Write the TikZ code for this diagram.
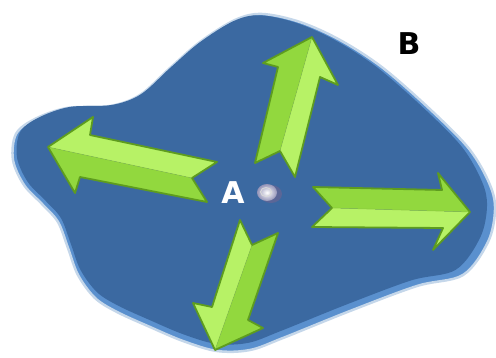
\documentclass[tikz,border=0pt]{standalone}
\usepackage{fontspec}
\setmainfont{DejaVu Sans}
\definecolor{rimblue}{HTML}{5A90CE}
\definecolor{rimline}{HTML}{C5D7EA}
\definecolor{topblue}{HTML}{3B69A1}
\definecolor{lightlime}{HTML}{B7F266}
\definecolor{darklime}{HTML}{92D83E}
\definecolor{limeline}{HTML}{5E9C1F}
\newcommand\blobpath{plot[smooth cycle,tension=0.55] coordinates {
 (200,42) (235,20) (262,14) (300,22) (340,40) (383,68) (433,112) (470,150)
 (490,185) (495,210) (488,242) (463,275) (417,286) (350,311) (283,338)
 (250,350) (217,351) (183,341) (150,327) (117,312) (95,298) (78,275)
 (68,248) (58,222) (42,204) (24,185) (13,160) (16,134) (35,119) (67,108)
 (110,106) (140,95) (170,68)}}
\newcommand\garrow[8]{%
  \fill[darklime] #1 -- #8 -- #7 -- #6 -- #5 -- cycle;
  \fill[lightlime] #1 -- #2 -- #3 -- #4 -- #5 -- cycle;
  \draw[arrowline] #1 -- #2 -- #3 -- #4 -- #5 -- #6 -- #7 -- #8 -- cycle;
  \draw[ridge] #1 -- #5;}
\tikzset{
  arrowline/.style={draw=limeline,line width=1.8pt,line join=round},
  ridge/.style={draw=darklime!80!black,line width=0.5pt,opacity=0.6},
  lbl/.style={font=\bfseries\fontsize{30}{30}\selectfont,inner sep=0pt}
}
\begin{document}
\begin{tikzpicture}[x=1pt,y=-1pt]
\useasboundingbox (0,0) rectangle (496,358);
% plate rim
\path[fill=rimblue,draw=rimline,line width=2.5pt] \blobpath;
% plate top surface
\begin{scope}[shift={(-2,-3)}]
\begin{scope}[shift={(255,185)},scale=0.975,shift={(-255,-185)}]
\path[fill=topblue] \blobpath;
\end{scope}
\end{scope}
% arrows
\garrow{(312,37)}{(338,85)}{(320,77)}{(295,177)}{(280,151)}{(255,163)}{(278,67)}{(263,63)}
\garrow{(48,147)}{(93,117)}{(90,135)}{(217,162)}{(192,178)}{(207,202)}{(80,177)}{(75,193)}
\garrow{(470,212)}{(433,250)}{(443,228)}{(312,227)}{(332,208)}{(313,187)}{(442,190)}{(438,173)}
\garrow{(215,350)}{(193,303)}{(212,307)}{(240,220)}{(252,245)}{(278,233)}{(248,320)}{(263,328)}
% centre dome
\fill[black!70!blue!60,opacity=0.75] (271,194) ellipse (11 and 9);
\shade[inner color=white,outer color=blue!20!gray!70] (267,192.5) ellipse (10 and 8.5);
\draw[white!70!gray,line width=0.9pt] (266,192) ellipse (5.5 and 4.5);
% labels
\node[lbl,text=white] (A) at (233,193) {A};
\node[lbl,text=black] (B) at (409,44) {B};
\end{tikzpicture}
\end{document}
